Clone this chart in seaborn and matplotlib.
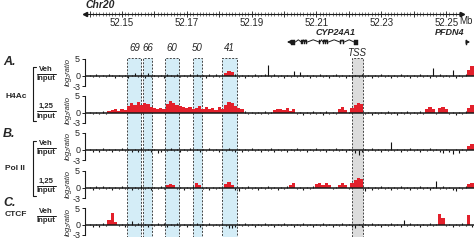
import numpy as np
import matplotlib
matplotlib.use("Agg")
import matplotlib.pyplot as plt
from matplotlib.patches import Rectangle
from matplotlib.lines import Line2D
import seaborn as sns

# =======================================
# DATA
# =======================================
# probes tile the region every 1 kb
probe_start = 52.140
probe_step = 0.001

h4ac_veh = [0.3, -0.4, 0.5, -0.2, 0.4, -0.3, 0.6, 0.2, -0.5, 0.3,
            -0.3, 0.4, -0.5, 0.3, 0.8, -0.4, 0.5, -0.6, 0.9, -0.3,
            0.4, -0.3, 0.2, -0.5, 0.6, 0.3, -0.4, 0.5, -0.3, 0.2,
            -0.4, 0.5, -0.3, 0.6, -0.2, 0.4, -0.5, 0.7, -0.3, 0.5,
            -0.3, 0.4, 1.0, 1.4, 1.2, 0.6, -0.4, 0.3, -0.5, 0.4,
            -0.3, 0.5, -0.4, 0.3, 0.6, 3.2, -0.4, 0.5, -0.3, 0.4,
            -0.5, 0.3, -0.4, 1.3, -0.3, 1.2, -0.4, 0.4, -0.5, 0.3,
            -0.4, 0.5, -0.3, 0.4, -0.5, 0.3, 0.6, -0.4, 0.3, -0.5,
            0.4, -0.6, 0.3, -0.4, 0.5, -0.3, 0.4, -0.5, 0.3, -0.4,
            0.5, -0.3, 0.4, -0.5, 0.3, -0.4, 0.5, -0.3, 0.4, -0.5,
            0.3, -0.4, 0.5, -0.3, 0.4, -0.5, 2.4, -0.4, 0.5, -0.3,
            0.4, -0.3, 1.8, -0.5, 0.3, -0.4, 0.5, 1.6, 2.8, 2.2]
h4ac_125 = [0.3, -0.4, 0.4, -0.3, 0.5, -0.4, 0.6, 0.8, 1.0, 0.7,
            1.1, 0.9, 2.0, 3.0, 2.4, 3.2, 2.2, 2.8, 2.5, 1.8,
            1.4, 1.0, 1.5, 1.2, 2.6, 3.4, 2.8, 2.2, 1.9, 1.6,
            1.3, 1.8, 1.0, 1.5, 2.0, 1.2, 1.7, 1.0, 1.4, 0.9,
            1.6, 1.1, 2.4, 3.2, 2.8, 2.0, 1.5, 1.0, 0.6, -0.3,
            0.3, -0.4, 0.4, -0.3, 0.5, -0.4, 0.3, 0.8, 1.0, 1.2,
            0.9, 1.3, 0.7, 1.0, -0.3, 0.4, -0.5, 0.3, -0.4, 0.5,
            -0.3, 0.4, -0.5, 0.6, -0.4, 0.3, -0.3, 1.2, 1.8, 0.9,
            0.2, 1.5, 2.2, 3.0, 2.6, -0.4, 0.3, -0.5, 0.4, -0.3,
            0.4, -0.3, 0.5, -0.4, 0.3, -0.5, 0.4, -0.3, 0.5, -0.4,
            0.3, -0.4, 0.5, -0.3, 1.2, 1.6, 1.0, -0.3, 1.4, 1.8,
            1.2, -0.4, 0.3, -0.5, 0.4, -0.3, 0.5, 1.5, 2.3, 1.8]
pol2_veh = [0.4, -0.5, 0.3, -0.6, 0.5, -0.3, 0.4, -0.7, 0.3, -0.4,
            0.5, -0.3, 0.4, -0.6, 0.3, -0.5, 0.6, -0.4, 0.3, -0.5,
            0.4, -0.8, -0.5, 0.3, -0.4, 0.5, -0.3, 0.4, -0.5, 0.3,
            -0.4, 0.5, -0.3, 0.4, -0.6, 0.3, -0.4, 0.5, -0.3, 0.4,
            -0.5, 0.3, -0.4, 0.5, -0.3, -0.7, 0.4, -0.5, 0.3, -0.4,
            0.5, -0.3, 0.4, -0.5, 0.3, -0.4, 0.5, -0.6, 0.3, -0.4,
            0.4, -0.5, 0.3, -0.4, 0.5, -0.3, 0.4, -0.5, 0.3, -0.4,
            0.5, -0.4, 0.3, -0.5, 0.4, -0.3, 0.5, -0.4, 0.3, -0.5,
            0.4, -0.3, -0.8, -1.6, -0.7, 0.3, -0.4, 0.5, -0.3, 0.4,
            -0.5, 0.3, -0.4, 2.2, -0.3, 0.4, -0.5, 0.3, -0.4, 0.5,
            -0.3, 0.4, -0.5, 0.3, -0.4, 0.5, -0.3, 0.4, -0.6, -0.9,
            0.4, -0.5, -1.2, 0.3, -0.8, 0.4, -0.3, 1.2, 1.6, 0.9]
pol2_125 = [0.4, -0.5, 0.5, -0.3, 0.6, -0.4, 0.3, -0.5, 0.4, -0.3,
            0.5, -0.4, 0.3, -0.5, 0.4, -0.3, 0.5, -0.4, 0.3, -0.5,
            0.4, -0.3, 0.5, -0.4, 1.0, 1.2, 0.8, -0.3, 0.4, -0.5,
            0.3, -0.4, 0.5, 1.3, 0.9, -0.3, 0.4, -0.5, 0.3, -0.4,
            0.4, -0.3, 1.1, 1.6, 0.8, -0.6, -0.8, 0.3, -0.4, 0.5,
            -0.3, 0.4, -0.5, 0.3, -0.4, 0.5, -0.3, 0.4, -0.5, 0.3,
            -0.4, 0.5, 1.0, 1.3, -0.3, 0.4, -0.5, 0.3, -0.4, 0.5,
            1.2, 1.5, 0.9, 1.3, 0.8, -0.3, 0.4, 1.0, 1.3, 0.9,
            -0.3, 1.4, 2.2, 3.0, 2.5, -1.0, 0.4, -0.5, 0.3, -0.4,
            0.5, -0.3, 0.4, -0.5, 0.3, -0.4, 0.5, -0.3, 0.4, -0.5,
            0.3, -0.4, 0.5, -0.3, 0.4, -0.5, 0.3, 2.0, -0.4, 0.5,
            -0.3, 0.4, -0.5, -0.9, 0.3, -0.4, 0.5, 1.2, 1.5, 0.8]
ctcf_veh = [0.4, -0.5, 0.3, -0.6, 0.5, -0.4, 1.5, 3.6, 0.8, -0.3,
            0.4, -0.5, 0.3, 1.2, -0.4, 0.5, -0.3, 0.4, -0.5, 0.3,
            -0.4, 0.5, -0.3, 0.6, -0.5, 0.3, -0.4, 0.5, -0.3, 0.4,
            -0.5, 0.3, -0.4, 0.5, -0.6, 0.4, -0.3, 0.5, -0.4, 0.3,
            -0.4, 0.5, -0.3, -0.8, -1.0, -0.6, 0.4, -0.3, 0.5, -0.4,
            0.3, -0.5, 0.4, -0.3, 0.6, -0.4, 0.3, -0.5, 0.4, -0.3,
            0.5, -0.4, 0.3, -0.5, 0.4, -0.3, 0.5, -0.4, 0.3, -0.5,
            0.4, -0.3, 0.5, -0.4, 0.3, -0.5, 0.4, -0.3, 0.5, -0.4,
            0.3, -0.5, -0.8, 0.4, -0.6, 0.3, -0.4, 0.5, -0.3, 0.4,
            -0.5, 0.3, -0.4, 0.5, -0.3, 0.4, -0.5, 1.3, -0.4, 0.5,
            -0.3, 0.4, -0.5, 0.3, -0.4, 0.5, -0.3, 0.4, 3.2, 2.0,
            -0.3, 0.4, -0.5, 0.3, -0.4, 0.5, -0.3, 2.9, -0.5, 0.4]

# enriched (red) intervals in Mb
h4ac_veh_peaks = [(52.182, 52.184), (52.257, 52.259)]
h4ac_125_peaks = [(52.146, 52.187), (52.197, 52.203), (52.217, 52.219),
                  (52.221, 52.224), (52.244, 52.246), (52.248, 52.250),
                  (52.257, 52.259)]
pol2_veh_peaks = [(52.257, 52.259)]
pol2_125_peaks = [(52.164, 52.166), (52.173, 52.174), (52.182, 52.184),
                  (52.202, 52.203), (52.210, 52.214), (52.217, 52.219),
                  (52.221, 52.224), (52.257, 52.259)]
ctcf_veh_peaks = [(52.146, 52.148), (52.248, 52.249), (52.257, 52.257)]

# highlighted regions (VDR sites and TSS)
site_labels = ["69", "66", "60", "50", "41"]
site_bounds = [(52.1517, 52.1560), (52.1565, 52.1593), (52.1633, 52.1676),
               (52.1719, 52.1747), (52.1809, 52.1855)]
tss_bounds = (52.2210, 52.2244)

# genes
cyp_start, cyp_end = 52.2009, 52.2228
cyp_exons = [(52.2020, 52.2035), (52.2053, 52.2057), (52.2062, 52.2065),
             (52.2069, 52.2072), (52.2108, 52.2111), (52.2120, 52.2123),
             (52.2127, 52.2130), (52.2134, 52.2137), (52.2172, 52.2175),
             (52.2183, 52.2186), (52.2216, 52.2228)]
pfdn4_exon = (52.2560, 52.2564)
pfdn4_end = 52.2574

ruler_labels = [52.15, 52.17, 52.19, 52.21, 52.23, 52.25]
ruler_end = 52.2549

# =======================================
# STYLE / LAYOUT
# =======================================
sns.set_theme(style="white")
plt.rcParams["font.family"] = ["Liberation Sans", "DejaVu Sans"]

W, H = 475, 240
X0, X1 = 52.1386, 52.2586
RED = "#e3202b"
BLUE = "#d4edf7"
GREY = "#dcdcdc"


def rect(l, t, r, b):
    return [l / W, 1 - b / H, (r - l) / W, (b - t) / H]


def fxy(x, y):
    return x / W, 1 - y / H


fig = plt.figure(figsize=(W / 100, H / 100), dpi=100)

# --- shaded boxes behind the tracks ---
box_ax = fig.add_axes(rect(85, 58, 474, 237), zorder=0)
box_ax.set_xlim(X0, X1)
box_ax.set_ylim(0, 1)
box_ax.axis("off")
for (a, b) in site_bounds:
    box_ax.add_patch(Rectangle((a, 0), b - a, 1, facecolor=BLUE, edgecolor="#444444",
                               lw=0.7, ls=(0, (2, 1.5))))
box_ax.add_patch(Rectangle((tss_bounds[0], 0), tss_bounds[1] - tss_bounds[0], 1,
                           facecolor=GREY, edgecolor="#444444", lw=0.7, ls=(0, (2, 1.5))))

# --- header: labels and gene models ---
head = fig.add_axes(rect(85, 0, 474, 58), zorder=2)
head.set_xlim(X0, X1)
head.set_ylim(58, 0)
head.axis("off")
head.text(X0 + 0.0003, 5, "Chr20", fontsize=7.5, fontweight="bold", fontstyle="italic",
          ha="left", va="center")
head.text(52.2562, 21.5, "Mb", fontsize=7, ha="center", va="center")
for lab, (a, b) in zip(site_labels, site_bounds):
    head.text((a + b) / 2, 48, lab, fontsize=7, fontstyle="italic", ha="center", va="center")
head.text(sum(tss_bounds) / 2 - 0.0003, 52.5, "TSS", fontsize=7, fontstyle="italic",
          ha="center", va="center")

gy = 42
head.text(52.2160, 32.5, "CYP24A1", fontsize=6.5, fontweight="bold", fontstyle="italic",
          ha="center", va="center")
head.annotate("", xy=(cyp_start, gy), xytext=(cyp_exons[0][0], gy),
              arrowprops=dict(arrowstyle="-|>", lw=0.8, color="k", mutation_scale=5,
                              shrinkA=0, shrinkB=0))
for i, (s, e) in enumerate(cyp_exons):
    hh = 5 if (e - s) > 0.0008 else 4
    head.add_patch(Rectangle((s, gy - hh / 2), e - s, hh, facecolor="k", edgecolor="k", lw=0.3))
    if i < len(cyp_exons) - 1:
        ns = cyp_exons[i + 1][0]
        head.plot([e, (e + ns) / 2, ns], [gy, gy - 2.2, gy], color="k", lw=0.7)

head.text(52.2512, 32.5, "PFDN4", fontsize=6.5, fontweight="bold", fontstyle="italic",
          ha="center", va="center")
head.add_patch(Rectangle((pfdn4_exon[0], gy - 2.5), pfdn4_exon[1] - pfdn4_exon[0], 5,
                         facecolor="k", edgecolor="k", lw=0.3))
head.annotate("", xy=(pfdn4_end, gy), xytext=(pfdn4_exon[1], gy),
              arrowprops=dict(arrowstyle="-|>", lw=0.8, color="k", mutation_scale=5,
                              shrinkA=0, shrinkB=0))

# --- ruler ---
rul = fig.add_axes(rect(85, 9, 474, 19), zorder=2)
rul.set_xlim(X0, X1)
rul.set_ylim(-1, 1)
rul.set_facecolor("none")
for side in ["top", "left", "right"]:
    rul.spines[side].set_visible(False)
rul.spines["bottom"].set_position(("data", 0))
rul.spines["bottom"].set_bounds(X0, ruler_end)
rul.spines["bottom"].set_linewidth(0.8)
rul.spines["bottom"].set_color("k")
major = np.round(np.arange(52.14, ruler_end, 0.01), 2)
rul.set_xticks(major)
rul.set_xticklabels([f"{v:.2f}" if np.any(np.isclose(v, ruler_labels)) else "" for v in major])
rul.set_xticks(np.arange(52.139, ruler_end, 0.001), minor=True)
rul.set_yticks([])
rul.tick_params(axis="x", which="major", direction="inout", length=4.5, width=0.6,
                labelsize=7, pad=0.6, color="k", bottom=True)
rul.tick_params(axis="x", which="minor", direction="inout", length=2.5, width=0.4,
                color="k", bottom=True)
rul.plot([X0], [0], marker="<", ms=3, color="k", clip_on=False)
rul.plot([ruler_end], [0], marker=">", ms=3, color="k", clip_on=False)

# --- signal tracks ---
positions = probe_start + probe_step * np.arange(len(h4ac_veh))
tracks = [(h4ac_veh, h4ac_veh_peaks), (h4ac_125, h4ac_125_peaks),
          (pol2_veh, pol2_veh_peaks), (pol2_125, pol2_125_peaks),
          (ctcf_veh, ctcf_veh_peaks)]
zeros = [76, 113, 150, 188, 225]

for (vals, peaks), z in zip(tracks, zeros):
    ax = fig.add_axes(rect(85, z - 17, 474, z + 10), zorder=1)
    ax.set_facecolor("none")
    vals = np.asarray(vals)
    red = np.zeros(len(vals), dtype=bool)
    for (a, b) in peaks:
        red |= (positions >= a - 1e-7) & (positions <= b + 1e-7)
    ax.vlines(positions[~red], 0, vals[~red], color="#111111", lw=0.8)
    ax.bar(positions[red], vals[red], width=probe_step, color=RED, lw=0)
    ax.axhline(0, color="k", lw=1.1)
    ax.set_xlim(X0, X1)
    ax.set_ylim(-3, 5)
    ax.set_xticks([])
    ax.set_yticks([5, 0, -3])
    ax.set_yticklabels(["5", "0", "-3"])
    ax.tick_params(axis="y", length=2.5, width=0.7, labelsize=6.5, pad=1, left=True, color="k")
    sns.despine(ax=ax, bottom=True)
    ax.spines["left"].set_linewidth(0.8)
    ax.spines["left"].set_color("k")
    fig.text(*fxy(68.5, z - 3.5), "log\u2082ratio", fontsize=5.5, fontstyle="italic",
             rotation=90, ha="center", va="center")

# --- left-hand labels ---
for lab, y in [("A.", 62), ("B.", 134), ("C.", 203)]:
    fig.text(*fxy(3, y), lab, fontsize=9, fontweight="bold", fontstyle="italic",
             ha="left", va="center")
for lab, y in [("H4Ac", 96), ("Pol II", 169), ("CTCF", 215)]:
    fig.text(*fxy(5, y), lab, fontsize=6, fontweight="bold", ha="left", va="center")

for top_lab, yc in [("Veh", 74), ("1,25", 111), ("Veh", 148), ("1,25", 186), ("Veh", 216)]:
    fig.text(*fxy(46, yc - 4.5), top_lab, fontsize=5.5, fontweight="bold", ha="center", va="center")
    fig.text(*fxy(46, yc + 5), "Input", fontsize=5.5, fontweight="bold", ha="center", va="center")
    fig.add_artist(Line2D([37 / W, 56 / W], [1 - yc / H, 1 - yc / H], color="k", lw=0.7))

for t, b in [(67, 121), (141, 196)]:
    xs = [36 / W, 32.5 / W, 32.5 / W, 36 / W]
    ys = [1 - t / H, 1 - t / H, 1 - b / H, 1 - b / H]
    fig.add_artist(Line2D(xs, ys, color="k", lw=0.8))

fig.savefig("out.png", dpi=100)
